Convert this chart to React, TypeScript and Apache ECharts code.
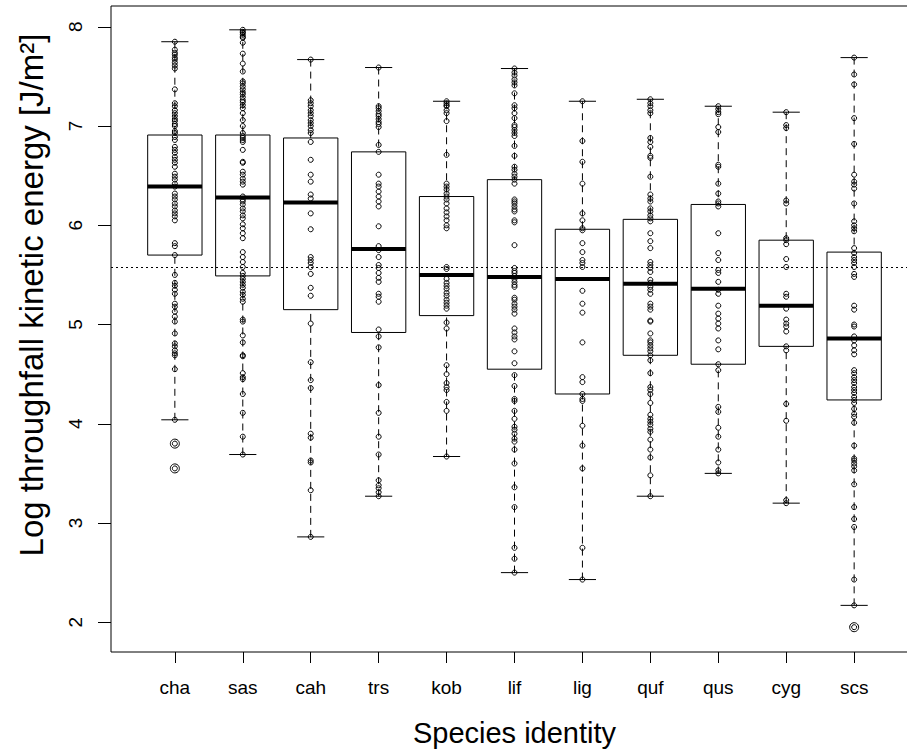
import React, { useEffect, useRef } from "react";
import * as echarts from "echarts";

const categories = ["cha", "sas", "cah", "trs", "kob", "lif", "lig", "quf", "qus", "cyg", "scs"];

// Box statistics
const whiskerLow = [4.04, 3.69, 2.86, 3.27, 3.67, 2.5, 2.43, 3.27, 3.5, 3.2, 2.17];
const q1 = [5.7, 5.49, 5.15, 4.92, 5.09, 4.55, 4.3, 4.69, 4.6, 4.78, 4.24];
const median = [6.39, 6.28, 6.23, 5.76, 5.5, 5.48, 5.46, 5.41, 5.36, 5.19, 4.86];
const q3 = [6.91, 6.91, 6.88, 6.74, 6.29, 6.46, 5.96, 6.06, 6.21, 5.85, 5.73];
const whiskerHigh = [7.85, 7.97, 7.67, 7.59, 7.25, 7.58, 7.25, 7.27, 7.2, 7.14, 7.69];

// Outliers flagged by the boxplot
const outliers: [string, number][] = [["cha", 3.8], ["cha", 3.55], ["scs", 1.95]];

// Overall mean (dotted reference line)
const grandMean = 5.58;

// Individual observations
const chaPts = [7.85, 7.77, 7.74, 7.72, 7.69, 7.67, 7.64, 7.61, 7.58, 7.37, 7.23, 7.2, 7.16, 7.13, 7.1, 7.07, 7.05, 7.02, 7.0, 6.95, 6.93, 6.89, 6.86, 6.79, 6.76, 6.73, 6.69, 6.66, 6.63, 6.59, 6.52, 6.49, 6.46, 6.42, 6.39, 6.32, 6.29, 6.26, 6.22, 6.19, 6.15, 6.12, 6.09, 6.05, 5.82, 5.79, 5.7, 5.5, 5.42, 5.39, 5.35, 5.31, 5.21, 5.18, 5.13, 5.08, 5.03, 4.91, 4.81, 4.78, 4.74, 4.71, 4.69, 4.55, 4.04, 3.8, 3.55];
const sasPts = [7.97, 7.95, 7.94, 7.92, 7.9, 7.89, 7.84, 7.73, 7.63, 7.55, 7.45, 7.43, 7.4, 7.37, 7.34, 7.32, 7.29, 7.26, 7.24, 7.21, 7.18, 7.13, 7.06, 7.0, 6.93, 6.9, 6.88, 6.86, 6.84, 6.76, 6.64, 6.63, 6.54, 6.51, 6.47, 6.44, 6.41, 6.29, 6.26, 6.24, 6.21, 6.17, 6.14, 6.1, 6.07, 6.01, 5.97, 5.92, 5.87, 5.73, 5.68, 5.63, 5.58, 5.52, 5.49, 5.46, 5.43, 5.4, 5.37, 5.33, 5.3, 5.26, 5.23, 5.05, 5.03, 4.89, 4.82, 4.69, 4.68, 4.51, 4.47, 4.45, 4.3, 4.11, 3.87, 3.69];
const cahPts = [7.67, 7.26, 7.23, 7.2, 7.16, 7.13, 7.1, 7.06, 7.03, 7.0, 6.96, 6.93, 6.84, 6.66, 6.51, 6.44, 6.31, 6.27, 6.12, 5.96, 5.68, 5.65, 5.62, 5.58, 5.51, 5.37, 5.29, 5.01, 4.62, 4.44, 4.36, 3.9, 3.86, 3.63, 3.61, 3.33, 2.86];
const trsPts = [7.59, 7.2, 7.18, 7.15, 7.12, 7.1, 7.07, 7.04, 7.02, 6.99, 6.81, 6.74, 6.51, 6.42, 6.39, 6.34, 6.29, 6.24, 6.19, 5.99, 5.79, 5.75, 5.68, 5.6, 5.57, 5.52, 5.47, 5.43, 5.31, 5.28, 5.23, 4.95, 4.88, 4.77, 4.39, 4.11, 3.87, 3.69, 3.43, 3.38, 3.35, 3.31, 3.27];
const kobPts = [7.25, 7.23, 7.21, 7.2, 7.16, 7.13, 7.05, 6.71, 6.42, 6.39, 6.36, 6.32, 6.29, 6.26, 6.22, 6.17, 6.13, 6.09, 6.05, 6.0, 5.97, 5.58, 5.56, 5.46, 5.42, 5.39, 5.36, 5.32, 5.29, 5.25, 5.22, 5.19, 5.16, 5.02, 4.96, 4.59, 4.5, 4.41, 4.37, 4.34, 4.22, 4.13, 3.67];
const lifPts = [7.58, 7.54, 7.51, 7.47, 7.44, 7.41, 7.33, 7.21, 7.18, 7.13, 7.08, 7.01, 6.99, 6.96, 6.93, 6.9, 6.8, 6.7, 6.59, 6.56, 6.52, 6.49, 6.46, 6.42, 6.26, 6.24, 6.22, 6.19, 6.16, 6.14, 6.05, 6.03, 5.8, 5.57, 5.54, 5.52, 5.49, 5.46, 5.43, 5.4, 5.38, 5.27, 5.25, 5.21, 5.18, 5.15, 5.11, 4.96, 4.92, 4.88, 4.85, 4.73, 4.61, 4.49, 4.38, 4.25, 4.23, 4.13, 4.05, 3.97, 3.94, 3.9, 3.85, 3.82, 3.74, 3.6, 3.36, 3.16, 2.75, 2.64, 2.5];
const ligPts = [7.25, 6.85, 6.64, 6.42, 6.12, 6.05, 5.97, 5.95, 5.82, 5.73, 5.65, 5.62, 5.58, 5.34, 5.21, 5.12, 4.82, 4.47, 4.42, 4.3, 4.25, 4.23, 3.98, 3.78, 3.55, 2.75, 2.43];
const qufPts = [7.27, 7.23, 7.2, 7.16, 7.13, 6.88, 6.84, 6.79, 6.7, 6.68, 6.49, 6.31, 6.27, 6.24, 6.17, 6.14, 6.1, 6.07, 6.04, 5.92, 5.84, 5.77, 5.63, 5.6, 5.57, 5.53, 5.45, 5.42, 5.38, 5.35, 5.31, 5.21, 5.18, 5.15, 5.04, 5.03, 4.91, 4.84, 4.82, 4.79, 4.76, 4.73, 4.69, 4.64, 4.51, 4.37, 4.34, 4.3, 4.21, 4.09, 4.05, 4.02, 3.99, 3.95, 3.92, 3.84, 3.74, 3.66, 3.48, 3.27];
const qusPts = [7.2, 7.17, 7.14, 7.12, 6.99, 6.94, 6.61, 6.59, 6.42, 6.32, 6.24, 6.22, 6.19, 5.92, 5.72, 5.65, 5.55, 5.52, 5.43, 5.35, 5.31, 5.19, 5.11, 5.06, 5.01, 4.96, 4.84, 4.75, 4.6, 4.54, 4.17, 4.12, 3.96, 3.87, 3.74, 3.61, 3.53, 3.5];
const cygPts = [7.14, 7.01, 6.98, 6.25, 6.22, 5.87, 5.85, 5.81, 5.66, 5.58, 5.31, 5.28, 5.16, 5.05, 5.01, 4.98, 4.93, 4.78, 4.74, 4.2, 4.03, 3.23, 3.2];
const scsPts = [7.69, 7.52, 7.42, 7.08, 6.82, 6.51, 6.44, 6.41, 6.37, 6.22, 6.04, 6.0, 5.97, 5.94, 5.77, 5.72, 5.68, 5.65, 5.62, 5.58, 5.51, 5.48, 5.19, 5.15, 5.0, 4.98, 4.88, 4.84, 4.79, 4.74, 4.7, 4.54, 4.51, 4.47, 4.44, 4.41, 4.37, 4.34, 4.31, 4.27, 4.24, 4.21, 4.15, 4.1, 4.07, 4.01, 3.78, 3.65, 3.63, 3.6, 3.57, 3.53, 3.39, 3.16, 3.04, 2.96, 2.43, 2.17, 1.95];

const pointsByCategory = [chaPts, sasPts, cahPts, trsPts, kobPts, lifPts, ligPts, qufPts, qusPts, cygPts, scsPts];

const yTicks = [2, 3, 4, 5, 6, 7, 8];
const xTicks = categories.map((_, i) => i + 1);

const xTitle = "Species identity";
const yTitle = "Log throughfall kinetic energy [J/m²]";

const FONT = "'Liberation Sans', Arial, Helvetica, sans-serif";

export default function App() {
  const ref = useRef<HTMLDivElement>(null);

  useEffect(() => {
    if (!ref.current) return;
    const chart = echarts.init(ref.current, undefined, { renderer: "svg" });

    const boxData = categories.map((_, i) => [i + 1, whiskerLow[i], q1[i], median[i], q3[i], whiskerHigh[i]]);
    const pointData: number[][] = [];
    pointsByCategory.forEach((arr, i) => arr.forEach((v) => pointData.push([i + 1, v])));
    const outlierData = outliers.map(([c, v]) => [categories.indexOf(c) + 1, v]);

    const option: any = {
      animation: false,
      backgroundColor: "#ffffff",
      textStyle: { fontFamily: FONT },
      graphic: [
        {
          type: "text",
          x: 31,
          y: 295,
          rotation: Math.PI / 2,
          silent: true,
          style: {
            text: yTitle,
            fontSize: 33,
            fontFamily: FONT,
            fill: "#000",
            textAlign: "center",
            textVerticalAlign: "middle",
          },
        },
      ],
      grid: {
        left: 111,
        right: -11,
        top: 6,
        bottom: 100,
        show: true,
        borderColor: "#000",
        borderWidth: 1,
        backgroundColor: "transparent",
        containLabel: false,
        outerBoundsMode: "none",
      },
      xAxis: {
        type: "value",
        min: 0.06,
        max: 11.94,
        name: xTitle,
        nameLocation: "middle",
        nameGap: 66,
        nameTextStyle: { fontSize: 29, color: "#000", fontFamily: FONT },
        axisLine: { show: false },
        splitLine: { show: false },
        axisTick: {
          show: true,
          inside: false,
          length: 11,
          customValues: xTicks,
          lineStyle: { color: "#000", width: 1 },
        },
        axisLabel: {
          show: true,
          customValues: xTicks,
          margin: 26,
          fontSize: 19,
          color: "#000",
          fontFamily: FONT,
          formatter: (v: number) => categories[Math.round(v) - 1] ?? "",
        },
      },
      yAxis: {
        type: "value",
        min: 1.7,
        max: 8.21,
        axisLine: { show: false },
        splitLine: { show: false },
        axisTick: {
          show: true,
          inside: false,
          length: 13,
          customValues: yTicks,
          lineStyle: { color: "#000", width: 1 },
        },
        axisLabel: {
          show: true,
          customValues: yTicks,
          rotate: 90,
          margin: 26,
          fontSize: 19,
          color: "#000",
          fontFamily: FONT,
          formatter: (v: number) => String(v),
        },
      },
      series: [
        {
          type: "custom",
          silent: true,
          encode: { x: 0, y: [1, 2, 3, 4, 5] },
          data: boxData,
          renderItem: (params: any, api: any) => {
            const x = api.value(0);
            const lo = api.coord([x, api.value(1)]);
            const b1 = api.coord([x, api.value(2)]);
            const md = api.coord([x, api.value(3)]);
            const b3 = api.coord([x, api.value(4)]);
            const hi = api.coord([x, api.value(5)]);
            const bw = api.size([0.8, 0])[0];
            const cw = bw / 2;
            const cx = lo[0];
            const dash = { stroke: "#000", lineWidth: 1, lineDash: [7, 5], fill: null };
            const solid = { stroke: "#000", lineWidth: 1, fill: null };
            return {
              type: "group",
              children: [
                { type: "line", shape: { x1: cx, y1: hi[1], x2: cx, y2: b3[1] }, style: dash },
                { type: "line", shape: { x1: cx, y1: lo[1], x2: cx, y2: b1[1] }, style: dash },
                { type: "line", shape: { x1: cx - cw / 2, y1: hi[1], x2: cx + cw / 2, y2: hi[1] }, style: solid },
                { type: "line", shape: { x1: cx - cw / 2, y1: lo[1], x2: cx + cw / 2, y2: lo[1] }, style: solid },
                {
                  type: "rect",
                  shape: { x: cx - bw / 2, y: b3[1], width: bw, height: b1[1] - b3[1] },
                  style: { stroke: "#000", lineWidth: 1, fill: "none" },
                },
                {
                  type: "line",
                  shape: { x1: cx - bw / 2, y1: md[1], x2: cx + bw / 2, y2: md[1] },
                  style: { stroke: "#000", lineWidth: 4, fill: null },
                },
              ],
            };
          },
        },
        {
          type: "scatter",
          silent: true,
          symbol: "circle",
          symbolSize: 5,
          data: pointData,
          itemStyle: { color: "rgba(0,0,0,0)", borderColor: "#000", borderWidth: 1, opacity: 1 },
          markLine: {
            silent: true,
            symbol: ["none", "none"],
            label: { show: false },
            lineStyle: { type: [2, 3], color: "#000", width: 1 },
            data: [{ yAxis: grandMean }],
          },
        },
        {
          type: "scatter",
          silent: true,
          symbol: "circle",
          symbolSize: 9,
          data: outlierData,
          itemStyle: { color: "rgba(0,0,0,0)", borderColor: "#000", borderWidth: 1, opacity: 1 },
        },
      ],
    };

    chart.setOption(option);
    return () => chart.dispose();
  }, []);

  return (
    <div
      ref={ref}
      style={{ position: "absolute", left: 0, top: 0, width: 907, height: 752 }}
    />
  );
}
